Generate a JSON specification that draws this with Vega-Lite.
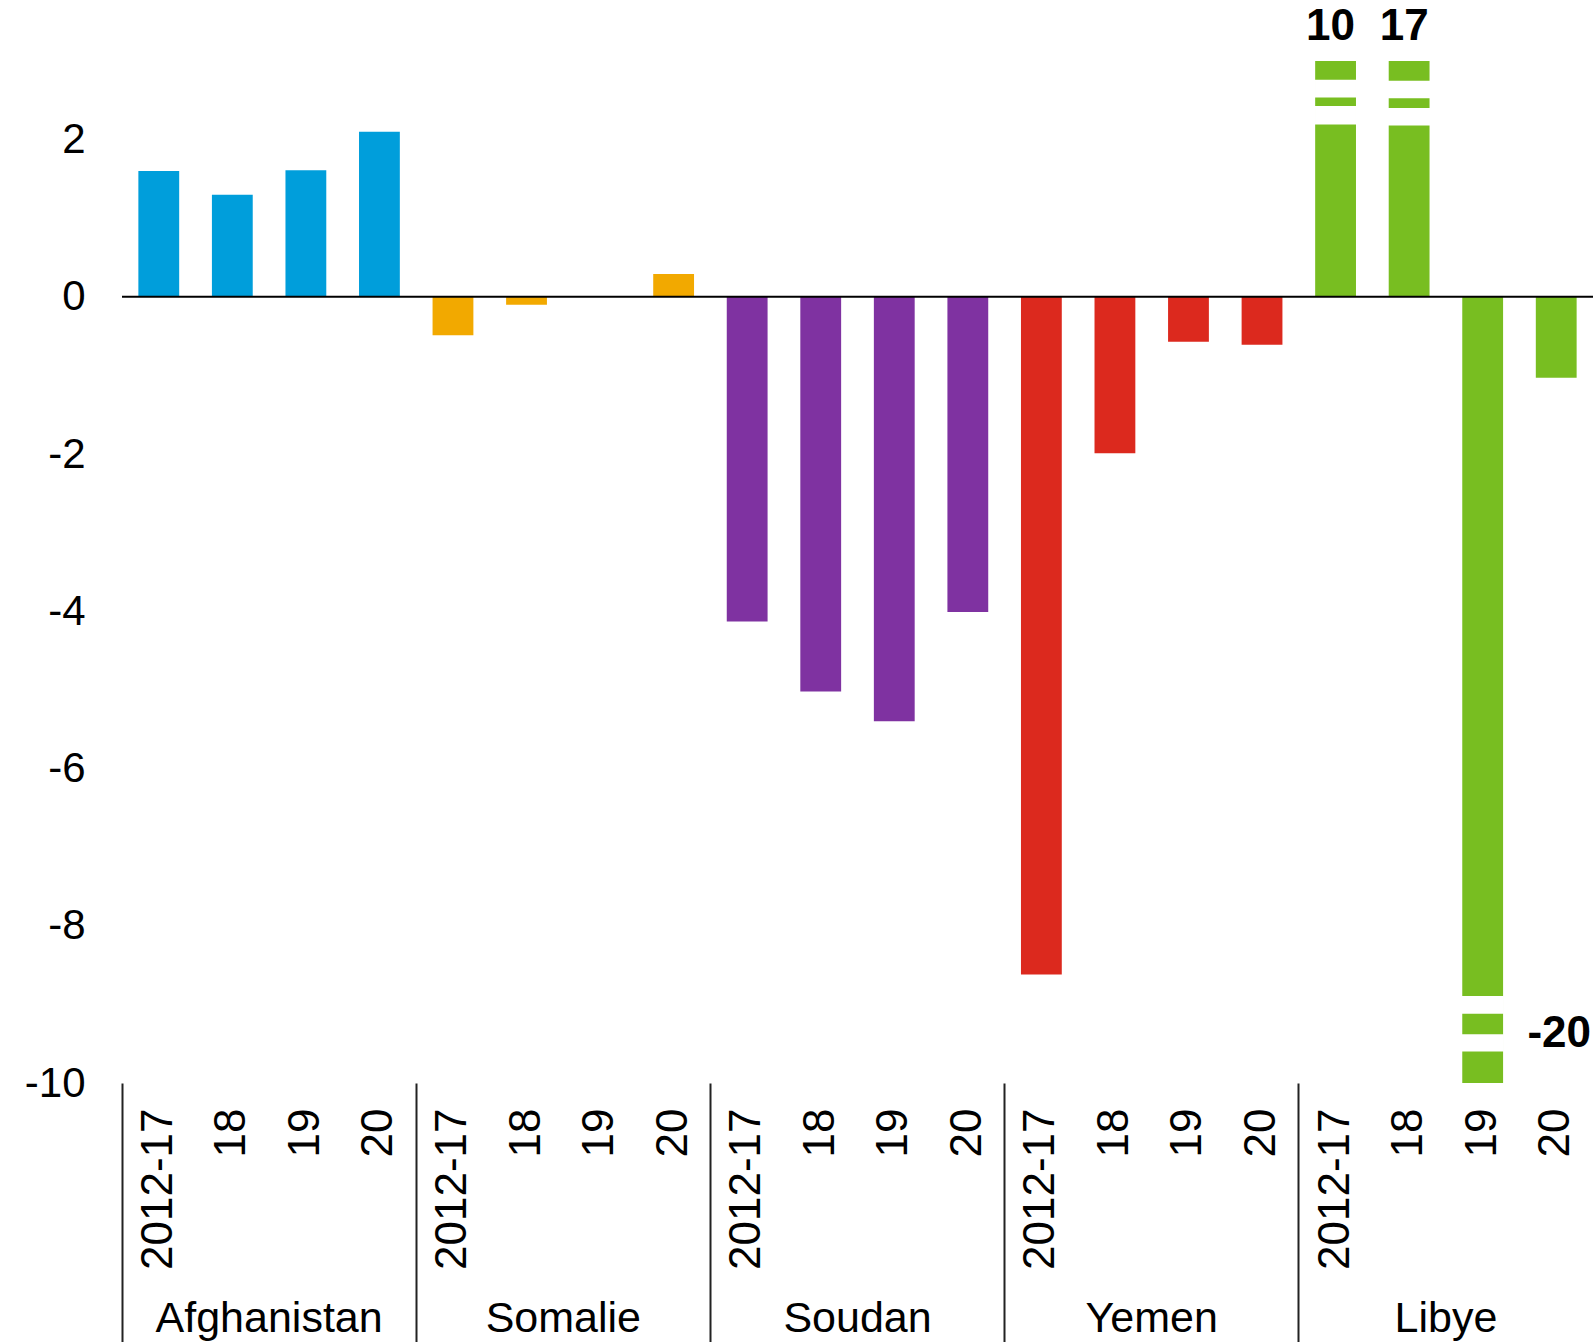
{
  "$schema": "https://vega.github.io/schema/vega-lite/v6.json",
  "autosize": {"type": "none"},
  "padding": {"left": 122, "top": 61, "right": 0, "bottom": 259},
  "width": 1471,
  "height": 1022,
  "config": {"view": {"stroke": null}, "font": "Liberation Sans", "axis": {"labelFont": "Liberation Sans", "labelColor": "#000000"}},
  "datasets": {
    "bars": [
      {"key": "Afghanistan|2012-17", "country": "Afghanistan", "value": 1.6},
      {"key": "Afghanistan|18", "country": "Afghanistan", "value": 1.3},
      {"key": "Afghanistan|19", "country": "Afghanistan", "value": 1.61},
      {"key": "Afghanistan|20", "country": "Afghanistan", "value": 2.1},
      {"key": "Somalie|2012-17", "country": "Somalie", "value": -0.49},
      {"key": "Somalie|18", "country": "Somalie", "value": -0.1},
      {"key": "Somalie|19", "country": "Somalie", "value": 0},
      {"key": "Somalie|20", "country": "Somalie", "value": 0.29},
      {"key": "Soudan|2012-17", "country": "Soudan", "value": -4.13},
      {"key": "Soudan|18", "country": "Soudan", "value": -5.02},
      {"key": "Soudan|19", "country": "Soudan", "value": -5.4},
      {"key": "Soudan|20", "country": "Soudan", "value": -4.01},
      {"key": "Yemen|2012-17", "country": "Yemen", "value": -8.62},
      {"key": "Yemen|18", "country": "Yemen", "value": -1.99},
      {"key": "Yemen|19", "country": "Yemen", "value": -0.57},
      {"key": "Yemen|20", "country": "Yemen", "value": -0.61},
      {"key": "Libye|2012-17", "country": "Libye", "value": 10},
      {"key": "Libye|18", "country": "Libye", "value": 17},
      {"key": "Libye|19", "country": "Libye", "value": -20},
      {"key": "Libye|20", "country": "Libye", "value": -1.03}
    ],
    "breaks": [
      {"key": "Libye|2012-17", "lo": 2.545, "hi": 2.752},
      {"key": "Libye|2012-17", "lo": 2.201, "hi": 2.417},
      {"key": "Libye|18", "lo": 2.536, "hi": 2.739},
      {"key": "Libye|18", "lo": 2.188, "hi": 2.392},
      {"key": "Libye|19", "lo": -9.109, "hi": -8.902},
      {"key": "Libye|19", "lo": -9.589, "hi": -9.389}
    ],
    "labels": [
      {"key": "Libye|2012-17", "y": 3.43, "text": "10"},
      {"key": "Libye|18", "y": 3.43, "text": "17"},
      {"key": "Libye|20", "y": -9.38, "text": "-20"}
    ],
    "countries": [
      {"country": "Afghanistan"},
      {"country": "Somalie"},
      {"country": "Soudan"},
      {"country": "Yemen"},
      {"country": "Libye"}
    ]
  },
  "layer": [
    {
      "layer": [
        {
          "data": {"name": "bars"},
          "mark": {"type": "bar", "clip": true},
          "encoding": {
            "x": {
              "field": "key",
              "type": "nominal",
              "scale": {
                "type": "band",
                "domain": ["Afghanistan|2012-17", "Afghanistan|18", "Afghanistan|19", "Afghanistan|20", "Somalie|2012-17", "Somalie|18", "Somalie|19", "Somalie|20", "Soudan|2012-17", "Soudan|18", "Soudan|19", "Soudan|20", "Yemen|2012-17", "Yemen|18", "Yemen|19", "Yemen|20", "Libye|2012-17", "Libye|18", "Libye|19", "Libye|20"],
                "paddingInner": 0.445,
                "paddingOuter": 0.2225
              },
              "axis": {
                "orient": "bottom",
                "title": null,
                "domain": false,
                "ticks": false,
                "labelAngle": -90,
                "labelAlign": "right",
                "labelBaseline": "middle",
                "labelPadding": 25,
                "labelFontSize": 44,
                "labelOverlap": false,
                "labelExpr": "split(datum.value, '|')[1]"
              }
            },
            "y": {
              "field": "value",
              "type": "quantitative",
              "stack": null,
              "scale": {"domain": [-10, 3], "nice": false, "zero": false},
              "axis": {
                "title": null,
                "domain": false,
                "ticks": false,
                "grid": false,
                "values": [-10, -8, -6, -4, -2, 0, 2],
                "labelFontSize": 42,
                "labelPadding": 37,
                "labelExpr": "toString(datum.value)"
              }
            },
            "y2": {"datum": 0},
            "color": {
              "field": "country",
              "type": "nominal",
              "legend": null,
              "scale": {
                "domain": ["Afghanistan", "Somalie", "Soudan", "Yemen", "Libye"],
                "range": ["#009EDB", "#F2A900", "#7F32A1", "#DC291E", "#78BE21"]
              }
            }
          }
        },
        {
          "data": {"name": "breaks"},
          "mark": {"type": "bar", "color": "#ffffff", "stroke": "#ffffff", "strokeWidth": 1.5, "clip": true},
          "encoding": {
            "x": {"field": "key", "type": "nominal", "title": null},
            "y": {"field": "lo", "type": "quantitative", "title": null},
            "y2": {"field": "hi"}
          }
        },
        {
          "data": {"values": [{"v": 0}]},
          "mark": {"type": "rule", "color": "#000000", "strokeWidth": 2},
          "encoding": {"y": {"field": "v", "type": "quantitative", "title": null}}
        },
        {
          "data": {"name": "labels"},
          "transform": [{"filter": "datum.y > 0"}],
          "mark": {"type": "text", "fontWeight": "bold", "fontSize": 44, "align": "center", "baseline": "middle", "color": "#000000", "dx": -5},
          "encoding": {
            "x": {"field": "key", "type": "nominal", "title": null, "scale": {"type": "band"}},
            "y": {"field": "y", "type": "quantitative", "title": null},
            "text": {"field": "text", "type": "nominal"}
          }
        },
        {
          "data": {"name": "labels"},
          "transform": [{"filter": "datum.y < 0"}],
          "mark": {"type": "text", "fontWeight": "bold", "fontSize": 44, "align": "center", "baseline": "middle", "color": "#000000", "dx": 3},
          "encoding": {
            "x": {"field": "key", "type": "nominal", "title": null, "scale": {"type": "band"}},
            "y": {"field": "y", "type": "quantitative", "title": null},
            "text": {"field": "text", "type": "nominal"}
          }
        }
      ]
    },
    {
      "data": {"name": "countries"},
      "mark": {"type": "text", "text": "", "opacity": 0},
      "encoding": {
        "x": {
          "field": "country",
          "type": "nominal",
          "scale": {"type": "band", "domain": ["Afghanistan", "Somalie", "Soudan", "Yemen", "Libye"], "paddingInner": 0, "paddingOuter": 0},
          "axis": {
            "orient": "bottom",
            "title": null,
            "domain": false,
            "bandPosition": 0,
            "ticks": true,
            "tickSize": 260,
            "tickColor": "#222222",
            "tickWidth": 2,
            "labelAngle": 0,
            "labelAlign": "center",
            "labelBaseline": "top",
            "labelPadding": -46,
            "labelFontSize": 43,
            "labelLimit": 0,
            "labelOverlap": false,
            "labelBound": false,
            "labelFlush": false
          }
        }
      }
    }
  ],
  "resolve": {"scale": {"x": "independent"}}
}
